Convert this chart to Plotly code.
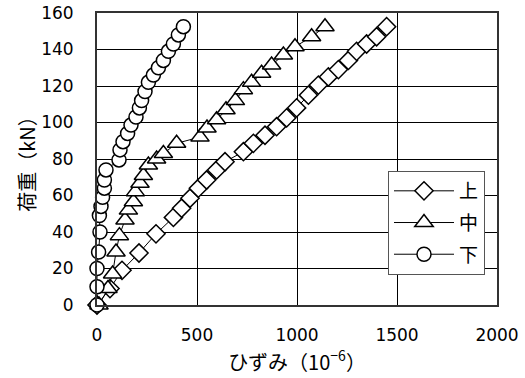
import plotly.graph_objects as go

# 上 (upper gauge)
upper_strain = [0, 65, 125, 210, 295, 382, 423, 465, 507, 548, 598, 640, 732, 782, 840, 898, 948, 998, 1057, 1107, 1157, 1207, 1257, 1298, 1348, 1398, 1448]
upper_load = [0, 9, 19, 28.5, 39, 48, 53, 58.5, 64, 68.5, 74, 78.5, 84, 88.6, 93, 97.7, 102.5, 108, 115, 120.5, 125, 129, 134, 139, 143, 147, 152.5]

# 中 (middle gauge)
middle_strain = [10, 55, 78, 95, 112, 140, 157, 182, 192, 215, 232, 257, 298, 332, 398, 515, 550, 598, 645, 692, 732, 773, 823, 873, 932, 990, 1073, 1140]
middle_load = [0, 9, 17, 29, 38, 46.6, 52, 56.6, 62, 66.7, 71, 76.7, 80, 83, 88.6, 92, 97, 101.5, 107, 112, 118, 122, 127, 131.5, 137, 141.5, 147, 152.5]

# 下 (lower gauge)
lower_strain = [0, 0, 0, 8, 15, 12, 20, 28, 37, 37, 45, 110, 115, 130, 153, 170, 195, 212, 223, 240, 257, 282, 307, 332, 357, 382, 407, 432]
lower_load = [0, 10, 20, 29, 40, 49, 54, 59, 64, 68.5, 74, 79.5, 85, 89.5, 94, 98.6, 103, 108, 112, 117, 122, 126, 130, 134, 139, 143, 148, 152.5]

x_ticks = [0, 500, 1000, 1500, 2000]
y_ticks = [0, 20, 40, 60, 80, 100, 120, 140, 160]

num_font = "DejaVu Sans, sans-serif"
cjk_font = "Noto Sans CJK JP, sans-serif"

fig = go.Figure()
series = [
    ("上", upper_strain, upper_load, "diamond", 14),
    ("中", middle_strain, middle_load, "triangle-up", 16),
    ("下", lower_strain, lower_load, "circle", 14),
]
for i, (name, xs, ys, sym, sz) in enumerate(series):
    fig.add_trace(go.Scatter(
        x=xs, y=ys, name=name, mode="lines+markers",
        legendgroup="g%d" % i,
        line=dict(color="black", width=1),
        marker=dict(symbol=sym, size=sz, color="white",
                    line=dict(color="black", width=1.5)),
        cliponaxis=False,
    ))

fig.update_layout(
    width=525, height=378,
    margin=dict(l=97, r=28, t=13, b=73, autoexpand=False),
    paper_bgcolor="white", plot_bgcolor="white",
    font=dict(family=num_font, size=17, color="black"),
    showlegend=True,
    legend=dict(
        x=0.7275, y=0.459, xanchor="left", yanchor="top",
        bgcolor="white", bordercolor="#555", borderwidth=1,
        font=dict(size=19, family=cjk_font),
        itemwidth=60, tracegroupgap=4,
    ),
    xaxis=dict(
        range=[0, 2000], tickvals=x_ticks, ticktext=[str(v) for v in x_ticks],
        showgrid=True, gridcolor="black", gridwidth=1,
        showline=True, linecolor="#333", linewidth=2, mirror=True,
        zeroline=False, ticks="", ticklabelstandoff=14, automargin=False,
        tickfont=dict(size=17, family=num_font),
        title=dict(text="ひずみ（10<sup>−6</sup>）", standoff=8,
                   font=dict(size=20, family=cjk_font)),
    ),
    yaxis=dict(
        range=[0, 160], tickvals=y_ticks, ticktext=[str(v) for v in y_ticks],
        showgrid=True, gridcolor="black", gridwidth=1,
        showline=True, linecolor="#333", linewidth=2, mirror=True,
        zeroline=False, ticks="", ticklabelstandoff=18, automargin=False,
        tickfont=dict(size=17, family=num_font),
        title=dict(text="荷重（kN）", standoff=0,
                   font=dict(size=20, family=cjk_font)),
    ),
)

fig.write_html("out.html", config={"displayModeBar": False},
               post_script="document.body.style.margin='0px';")
